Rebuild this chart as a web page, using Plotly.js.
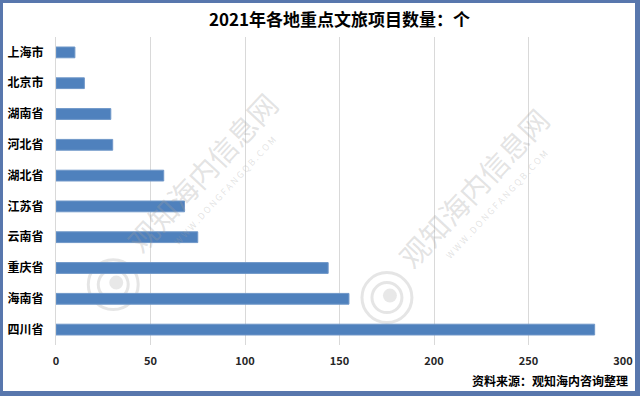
<!DOCTYPE html>
<html>
<head>
<meta charset="utf-8">
<script src="https://cdn.plot.ly/plotly-3.0.1.min.js"></script>
<style>
  html, body { margin: 0; padding: 0; background: #fff; }
  #wrap { position: relative; width: 640px; height: 396px; }
  #chart { width: 640px; height: 396px; }
  #frame { position: absolute; left: 0; top: 0; width: 640px; height: 396px; box-sizing: border-box;
           border-style: solid; border-color: #5877ad; border-width: 3px 5px 5px 3px; pointer-events: none; }
</style>
</head>
<body>
<div id="wrap"><div id="chart"></div><div id="frame"></div></div>
<script>
const categories = ["上海市", "北京市", "湖南省", "河北省", "湖北省", "江苏省", "云南省", "重庆省", "海南省", "四川省"];
const projectCounts = [10, 15, 29, 30, 57, 68, 75, 144, 155, 285];
const xTickValues = [0, 50, 100, 150, 200, 250, 300];
const titleText = "2021年各地重点文旅项目数量：个";
const sourceText = "资料来源：观知海内咨询整理";
const watermarkText = "观知海内信息网";
const watermarkUrl = "W W W . D O N G F A N G Q B . C O M";

const W = 640, H = 396;
const L = 55.7, R = 623.3, T = 37.3, B = 345.4;
const px = x => (x - L) / (R - L);
const py = y => (B - y) / (B - T);
const cjk = '"Noto Sans CJK SC", "Noto Sans", sans-serif';

function circle(cx, cy, r, style) {
  return Object.assign({
    type: 'circle', xref: 'paper', yref: 'paper', layer: 'below',
    x0: px(cx - r), x1: px(cx + r), y0: py(cy + r), y1: py(cy - r)
  }, style);
}
const wmLine = { line: { color: 'rgba(180,180,180,0.35)', width: 3 } };
const wmFill = { line: { width: 0 }, fillcolor: 'rgba(180,180,180,0.3)' };

const shapes = [
  circle(113, 285, 25, wmLine), circle(113, 285, 15, wmLine), circle(116, 283, 7, wmFill),
  circle(387, 298, 25, wmLine), circle(387, 298, 15, wmLine), circle(390, 296, 7, wmFill)
];

function wm(x, y, text, size) {
  return { xref: 'paper', yref: 'paper', x: px(x), y: py(y), xanchor: 'center', yanchor: 'middle',
           text: text, showarrow: false,
           textangle: -47, font: { family: cjk, size: size, color: 'rgba(160,160,160,0.3)' } };
}

const annotations = [
  { xref: 'paper', yref: 'paper', x: px(630), y: py(381), xanchor: 'right', yanchor: 'middle',
    text: '<b>' + sourceText + '</b>', showarrow: false,
    font: { family: cjk, size: 12, color: '#000' } },
  wm(201, 172, watermarkText, 29), wm(225, 191, watermarkUrl, 9),
  wm(473, 187, watermarkText, 29), wm(497, 205, watermarkUrl, 9)
];

const trace = {
  type: 'bar', orientation: 'h',
  y: categories, x: projectCounts,
  marker: { color: '#4f81bd', line: { color: '#6f97c8', width: 1 } },
  hoverinfo: 'x+y'
};

const layout = {
  width: W, height: H,
  margin: { l: L, r: W - R, t: T, b: H - B, pad: 0 },
  paper_bgcolor: '#fff', plot_bgcolor: '#fff',
  showlegend: false,
  bargap: 0.65,
  title: { text: '<b>' + titleText + '</b>', x: 0.5, xref: 'paper', xanchor: 'center', y: 1 - 20 / H, yanchor: 'middle', yref: 'container',
           font: { family: cjk, size: 17, color: '#000' } },
  xaxis: {
    range: [0, 300], tickvals: xTickValues, ticktext: xTickValues.map(String),
    showgrid: true, gridcolor: '#d9d9d9', gridwidth: 1, zeroline: false, showline: false,
    ticks: '', ticklabelstandoff: 8,
    tickfont: { family: cjk, size: 11, color: '#262626', weight: 'bold' }, fixedrange: true
  },
  yaxis: {
    type: 'category', autorange: 'reversed',
    showgrid: false, zeroline: false, showline: true, linecolor: '#d9d9d9', linewidth: 1,
    ticks: '', ticklabelstandoff: 9,
    tickfont: { family: cjk, size: 12, color: '#000', weight: 'bold' }, fixedrange: true
  },
  shapes: shapes,
  annotations: annotations
};

Plotly.newPlot('chart', [trace], layout, { displayModeBar: false, staticPlot: true });
</script>
</body>
</html>
